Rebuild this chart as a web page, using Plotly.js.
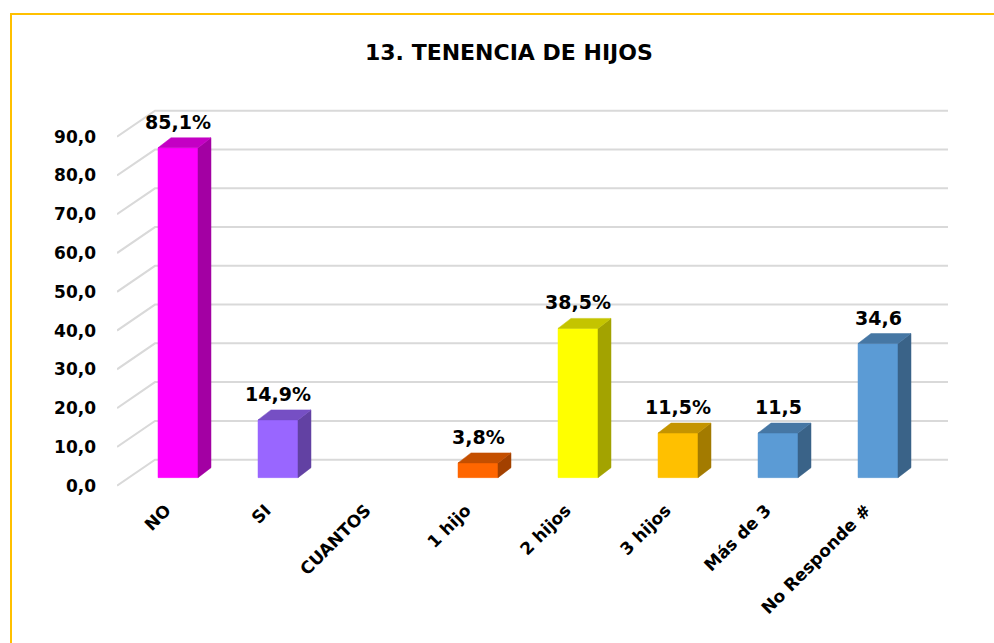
<!DOCTYPE html>
<html>
<head>
<meta charset="utf-8">
<script src="https://cdn.plot.ly/plotly-3.0.1.min.js"></script>
<style>
  html, body { margin: 0; padding: 0; background: #fff; }
  #wrap { position: relative; width: 994px; height: 643px; overflow: hidden; }
  #frame { position: absolute; left: 10px; top: 13px; width: 1000px; height: 700px;
           border-left: 2px solid #FFC000; border-top: 2px solid #FFC000; pointer-events: none; }
  #chart { position: absolute; left: 0; top: 0; width: 994px; height: 643px; }
</style>
</head>
<body>
<div id="wrap">
  <div id="chart"></div>
  <div id="frame"></div>
</div>
<script>
// ---- data ----
const categories = ["NO", "SI", "CUANTOS", "1 hijo", "2 hijos", "3 hijos", "Más de 3", "No Responde #"];
const values = [85.1, 14.9, null, 3.8, 38.5, 11.5, 11.5, 34.6];
const valueLabels = ["85,1%", "14,9%", "", "3,8%", "38,5%", "11,5%", "11,5", "34,6"];
const yTickVals = [0, 10, 20, 30, 40, 50, 60, 70, 80, 90];
const yTickText = ["0,0", "10,0", "20,0", "30,0", "40,0", "50,0", "60,0", "70,0", "80,0", "90,0"];
const chartTitle = "13. TENENCIA DE HIJOS";

// ---- style ----
const frontColors = ["#FF00FF", "#9966FF", "#FFFFFF", "#FF6600", "#FFFF00", "#FFC000", "#5B9BD5", "#5B9BD5"];
function shade(hex, f) {
  const n = parseInt(hex.slice(1), 16);
  const r = Math.round(((n >> 16) & 255) * f), g = Math.round(((n >> 8) & 255) * f), b = Math.round((n & 255) * f);
  return "rgb(" + r + "," + g + "," + b + ")";
}
const FONT = "'DejaVu Sans', sans-serif";
const barW = 0.4;          // bar width in category units
const base = 2.06;         // bar sits a little behind the floor front edge
const depthX = 0.13, depthY = 2.58;   // bar depth projection
const wallX0 = -0.61, wallX1 = -0.23, wallX2 = 7.7, wallDY = 6.7; // back wall projection

const xs = categories.map((c, i) => i);
const traces = [];

// back-wall gridlines (derived from the y ticks)
const gx = [], gy = [];
yTickVals.forEach(t => {
  gx.push(wallX0, wallX1, wallX2, null);
  gy.push(t, t + wallDY, t + wallDY, null);
});
traces.push({ type: "scatter", mode: "lines", x: gx, y: gy, hoverinfo: "skip",
  line: { color: "#D9D9D9", width: 2 }, showlegend: false });

// 3D columns: front, side and top faces computed from the values
function face(x, y, color) {
  traces.push({ type: "scatter", mode: "lines", fill: "toself", hoverinfo: "skip", showlegend: false,
    x: x, y: y, line: { width: 0.5, color: color }, fillcolor: color });
}
values.forEach((v, i) => {
  if (v === null || v === undefined) return;
  const xl = i - barW / 2, xr = i + barW / 2, y0 = base, y1 = base + v;
  face([xl, xr, xr, xl, xl], [y0, y0, y1, y1, y0], frontColors[i]);
  face([xr, xr + depthX, xr + depthX, xr, xr], [y0, y0 + depthY, y1 + depthY, y1, y0], shade(frontColors[i], 0.64));
  face([xl, xl + depthX, xr + depthX, xr, xl], [y1, y1 + depthY, y1 + depthY, y1, y1], shade(frontColors[i], 0.77));
});

const annotations = [];
values.forEach((v, i) => {
  if (v === null || v === undefined || !valueLabels[i]) return;
  annotations.push({ x: i, y: base + v + depthY, text: valueLabels[i], showarrow: false,
    xanchor: "center", yanchor: "bottom", yshift: 3,
    font: { family: FONT, size: 19, color: "#000", weight: "bold" } });
});

const layout = {
  width: 994, height: 643,
  paper_bgcolor: "rgba(0,0,0,0)", plot_bgcolor: "rgba(0,0,0,0)",
  margin: { l: 117, r: 34, t: 98, b: 138 },
  title: { text: "<b>" + chartTitle + "</b>", x: 0.512, xanchor: "center", y: 0.919, yanchor: "middle",
    font: { family: FONT, size: 22, color: "#000" } },
  xaxis: { range: [-0.61, 7.82], tickvals: xs, ticktext: categories, tickangle: -45,
    showgrid: false, zeroline: false, showline: false, ticks: "",
    ticklabelshift: -12, ticklabelstandoff: -9,
    tickfont: { family: FONT, size: 17, color: "#000", weight: "bold" } },
  yaxis: { range: [-5, 100], tickvals: yTickVals, ticktext: yTickText,
    showgrid: false, zeroline: false, showline: false, ticks: "", ticklabelstandoff: 20,
    tickfont: { family: FONT, size: 17, color: "#000", weight: "bold" } },
  annotations: annotations,
  showlegend: false
};

Plotly.newPlot("chart", traces, layout, { displayModeBar: false, staticPlot: true });
</script>
</body>
</html>
